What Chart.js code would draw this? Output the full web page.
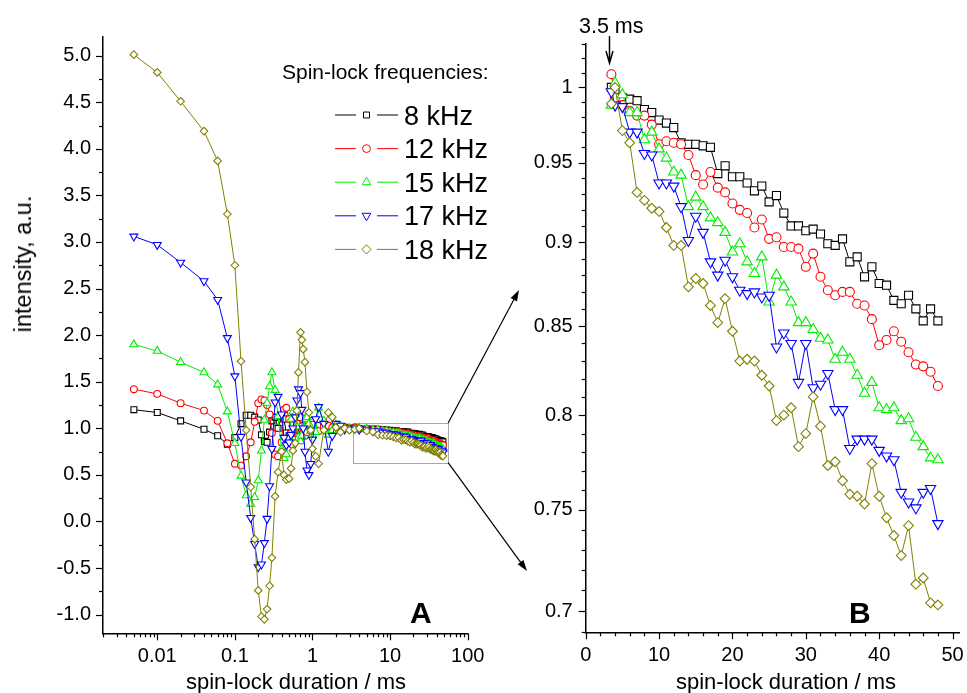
<!DOCTYPE html>
<html>
<head>
<meta charset="utf-8">
<script src="https://cdn.jsdelivr.net/npm/chart.js@4.4.1/dist/chart.umd.min.js"></script>
<style>
  html, body { margin: 0; padding: 0; background: #fff; }
  #page { position: relative; width: 967px; height: 693px; overflow: hidden; font-family: 'Liberation Sans', Arial, sans-serif; }
  canvas { position: absolute; top: 0; }
  #cA { left: 0; }
  #cB { left: 500px; }
  #overlay { left: 0; pointer-events: none; }
  .lbl { position: absolute; font-size: 22px; line-height: 22px; white-space: nowrap; color: #000; }
  #yTitle { left: 23px; top: 264px; font-size: 23.5px; line-height: 24px; transform: translate(-50%, -50%) rotate(-90deg); }
  #xTitleA { left: 296px; top: 671px; transform: translateX(-50%); }
  #xTitleB { left: 786px; top: 671px; transform: translateX(-50%); }
</style>
</head>
<body>
<div id="page">
  <canvas id="cA" width="500" height="693"></canvas>
  <canvas id="cB" width="467" height="693"></canvas>
  <canvas id="overlay" width="967" height="693"></canvas>
  <div class="lbl" id="yTitle">intensity, a.u.</div>
  <div class="lbl" id="xTitleA">spin-lock duration / ms</div>
  <div class="lbl" id="xTitleB">spin-lock duration / ms</div>
</div>
<script>
'use strict';

// spin-lock durations, ms (short part only on panel A, long part on both)
var TIME_SHORT = [0.005, 0.01, 0.02, 0.04, 0.06, 0.08,
  0.1, 0.12, 0.14, 0.16, 0.18, 0.2, 0.22, 0.24, 0.26, 0.28, 0.3,
  0.33, 0.36, 0.4, 0.43, 0.46, 0.5, 0.53, 0.56, 0.6, 0.63, 0.66, 0.7, 0.73, 0.76, 0.8, 0.85, 0.9, 0.95, 1.0,
  1.1, 1.2, 1.4, 1.6, 1.8, 2.0, 2.3, 2.6, 3.0];
var TIME_LONG = [3.5, 4, 5, 6, 7, 8, 9, 10, 11, 12, 13, 14, 15, 16, 17, 18, 19, 20, 21, 22, 23, 24, 25, 26,
  27, 28, 29, 30, 31, 32, 33, 34, 35, 36, 37, 38, 39, 40, 41, 42, 43, 44, 45, 46, 47, 48];

// intensities, a.u.
var K8_SHORT = [1.20, 1.17, 1.08, 0.99, 0.92, 0.83,
  0.90, 1.05, 1.14, 1.14, 1.12, 1.09, 0.93, 0.86, 0.85, 0.96, 1.08,
  1.12, 1.00, 1.13, 1.10, 0.95, 0.92, 0.95, 1.05, 1.10, 1.08, 0.98, 0.95, 0.97, 1.02, 1.05, 1.06, 1.02, 0.98, 0.97,
  0.99, 1.03, 1.04, 1.02, 1.00, 0.99, 1.00, 1.01, 1.00];
var K12_SHORT = [1.42, 1.37, 1.27, 1.19, 1.08, 0.84,
  0.62, 0.60, 0.70, 0.85, 1.07, 1.27, 1.31, 1.30, 1.25, 1.15, 0.95,
  0.72, 0.70, 0.85, 1.20, 1.22, 1.10, 0.95, 0.82, 0.88, 1.05, 1.15, 1.12, 1.02, 0.95, 0.92, 0.96, 1.05, 1.08, 1.04,
  0.98, 0.97, 1.02, 1.03, 1.01, 0.99, 1.00, 1.01, 1.00];
var K15_SHORT = [1.90, 1.83, 1.71, 1.60, 1.47, 1.18,
  0.84, 0.49, 0.28, 0.19, 0.26, 0.44, 0.76, 1.09, 1.27, 1.45, 1.60,
  1.41, 1.13, 0.78, 0.68, 0.72, 0.90, 1.10, 1.18, 1.15, 1.02, 0.90, 0.86, 0.92, 1.02, 1.10, 1.12, 1.05, 0.97, 0.93,
  0.96, 1.22, 1.08, 0.93, 0.98, 1.04, 1.02, 0.99, 1.00];
var K17_SHORT = [3.06, 2.97, 2.78, 2.58, 2.38, 1.97,
  1.56, 0.91, 0.42, 0.04, -0.24, -0.49, -0.46, -0.23, 0.03, 0.38, 0.78,
  1.28, 1.34, 1.15, 0.90, 0.82, 0.85, 0.93, 1.00, 1.12, 1.30, 1.42, 1.38, 1.20, 1.00, 0.75, 0.55, 0.50, 0.62, 0.88,
  1.10, 1.23, 1.05, 0.75, 0.92, 1.05, 1.03, 0.99, 1.00];
var K18_SHORT = [5.01, 4.82, 4.51, 4.19, 3.87, 3.30,
  2.75, 1.72, 0.98, 0.37, -0.19, -0.74, -1.02, -1.05, -0.94, -0.69, -0.39,
  0.27, 0.53, 0.75, 0.50, 0.45, 0.46, 0.57, 0.76, 0.84, 1.19, 1.60, 2.03, 1.95, 1.85, 1.71, 1.39, 1.17, 0.98, 0.78,
  0.70, 0.62, 0.98, 1.17, 1.12, 1.01, 0.96, 1.00, 0.98];

var K8_LONG = [1.000, 0.998, 0.993, 0.992, 0.991, 0.985, 0.983, 0.978, 0.976, 0.973, 0.963, 0.962, 0.962, 0.961,
  0.960, 0.943, 0.948, 0.941, 0.941, 0.937, 0.932, 0.935, 0.925, 0.929, 0.918, 0.910, 0.910, 0.907, 0.908, 0.905,
  0.899, 0.898, 0.902, 0.888, 0.891, 0.879, 0.885, 0.875, 0.874, 0.865, 0.863, 0.868, 0.860, 0.853, 0.860, 0.853];
var K12_LONG = [1.009, 0.993, 0.988, 0.984, 0.981, 0.981, 0.975, 0.962, 0.964, 0.963, 0.962, 0.955, 0.942, 0.936,
  0.944, 0.934, 0.931, 0.924, 0.920, 0.918, 0.909, 0.914, 0.902, 0.903, 0.897, 0.897, 0.896, 0.885, 0.893, 0.879,
  0.871, 0.868, 0.870, 0.870, 0.863, 0.862, 0.854, 0.839, 0.842, 0.847, 0.841, 0.835, 0.828, 0.827, 0.824, 0.816];
var K15_LONG = [0.988, 1.003, 0.995, 0.983, 0.983, 0.965, 0.970, 0.959, 0.953, 0.944, 0.942, 0.922, 0.928, 0.922,
  0.915, 0.912, 0.906, 0.894, 0.899, 0.888, 0.881, 0.891, 0.864, 0.880, 0.873, 0.864, 0.852, 0.852, 0.848, 0.843,
  0.842, 0.831, 0.835, 0.831, 0.822, 0.812, 0.818, 0.804, 0.803, 0.804, 0.797, 0.798, 0.788, 0.783, 0.777, 0.776];
var K17_LONG = [0.997, 0.988, 0.987, 0.970, 0.970, 0.956, 0.955, 0.937, 0.937, 0.935, 0.922, 0.901, 0.916, 0.906,
  0.888, 0.880, 0.889, 0.879, 0.871, 0.869, 0.870, 0.867, 0.868, 0.838, 0.846, 0.840, 0.818, 0.840, 0.815, 0.817,
  0.823, 0.803, 0.803, 0.782, 0.787, 0.787, 0.787, 0.781, 0.778, 0.776, 0.759, 0.754, 0.751, 0.759, 0.761, 0.743];
var K18_LONG = [0.989, 1.000, 0.971, 0.963, 0.931, 0.926, 0.921, 0.919, 0.909, 0.898, 0.898, 0.873, 0.878, 0.875,
  0.862, 0.852, 0.866, 0.847, 0.830, 0.831, 0.830, 0.822, 0.816, 0.797, 0.800, 0.804, 0.783, 0.790, 0.810, 0.794,
  0.773, 0.775, 0.765, 0.758, 0.757, 0.753, 0.774, 0.757, 0.746, 0.737, 0.727, 0.742, 0.713, 0.716, 0.704, 0.703];

var LABELS = ['8 kHz', '12 kHz', '15 kHz', '17 kHz', '18 kHz'];
var SHORT_VALUES = [K8_SHORT, K12_SHORT, K15_SHORT, K17_SHORT, K18_SHORT];
var LONG_VALUES = [K8_LONG, K12_LONG, K15_LONG, K17_LONG, K18_LONG];

// tick labels
var X_TICKS_A = [0.01, 0.1, 1, 10, 100];
var Y_TICKS_A = [-1.0, -0.5, 0.0, 0.5, 1.0, 1.5, 2.0, 2.5, 3.0, 3.5, 4.0, 4.5, 5.0];
var X_TICKS_B = [0, 10, 20, 30, 40, 50];
var Y_TICKS_B = [0.7, 0.75, 0.8, 0.85, 0.9, 0.95, 1];

// zoomed region marked on panel A
var ZOOM_BOX_X = [3.3, 56];
var ZOOM_BOX_Y = [0.632, 1.057];

var STYLES = [
  { color: '#000000', shape: 'rect',     rot: 0,   rA: 4.2, rB: 5.7, rL: 4.2 },
  { color: '#ff0000', shape: 'circle',   rot: 0,   rA: 3.4, rB: 4.5, rL: 3.9 },
  { color: '#00ee00', shape: 'triangle', rot: 0,   rA: 4.6, rB: 6.0, rL: 5.0 },
  { color: '#0000ff', shape: 'triangle', rot: 180, rA: 4.6, rB: 6.0, rL: 5.0 },
  { color: '#808000', shape: 'rectRot',  rot: 0,   rA: 3.8, rB: 4.9, rL: 4.6 }
];

var FONT = "'Liberation Sans', Arial, sans-serif";
Chart.defaults.font.family = FONT;
Chart.defaults.color = '#000';

function points(times, vals) {
  return times.map(function (t, i) { return { x: t, y: vals[i] }; });
}

function logMinor(min, max) {
  var out = [];
  for (var e = -3; e <= 2; e++) {
    for (var m = 2; m <= 9; m++) {
      var v = +(m * Math.pow(10, e)).toPrecision(6);
      if (v >= min - 1e-12 && v <= max) out.push(v);
    }
  }
  return out;
}

function range(a, b, step, skip) {
  var out = [];
  for (var k = a; k <= b; k += step) { if (!skip(k)) out.push(k); }
  return out;
}

function makeDatasets(panel) {
  return STYLES.map(function (s, i) {
    var data = panel === 'A'
      ? points(TIME_SHORT.concat(TIME_LONG), SHORT_VALUES[i].concat(LONG_VALUES[i]))
      : points(TIME_LONG, LONG_VALUES[i]);
    return {
      label: LABELS[i],
      data: data,
      order: 4 - i,
      borderColor: s.color,
      borderWidth: 1,
      tension: 0,
      pointStyle: s.shape,
      pointRotation: s.rot,
      pointRadius: panel === 'A' ? s.rA : s.rB,
      pointBorderWidth: 1.1,
      pointBorderColor: s.color,
      pointBackgroundColor: '#ffffff'
    };
  });
}

function fixedAxis(size, horizontal) {
  return function (scale) {
    if (horizontal) scale.height = size; else scale.width = size;
    scale.paddingLeft = 0; scale.paddingRight = 0;
    scale.paddingTop = 0; scale.paddingBottom = 0;
  };
}

function setTicks(list) {
  return function (scale) {
    scale.ticks = list.map(function (v) { return { value: v }; });
  };
}

function axisOpts(extra) {
  var base = {
    grid: { display: false, drawTicks: false },
    border: { display: true, color: '#000', width: 1.5 },
    ticks: { font: { size: 20, family: FONT }, color: '#000', autoSkip: false, maxRotation: 0, minRotation: 0 }
  };
  Object.keys(extra).forEach(function (k) {
    if (k === 'ticks') Object.assign(base.ticks, extra.ticks);
    else base[k] = extra[k];
  });
  return base;
}

// outward tick marks, major and minor (Origin style)
var tickMarks = {
  id: 'tickMarks',
  afterDraw: function (chart, args, opts) {
    var ctx = chart.ctx;
    ctx.save();
    ctx.strokeStyle = '#000';
    ctx.lineWidth = 1.2;
    ['x', 'y'].forEach(function (id) {
      var sc = chart.scales[id];
      var spec = opts[id];
      if (!spec) return;
      function mark(v, len) {
        var p = Math.round(sc.getPixelForValue(v)) + 0.5;
        ctx.beginPath();
        if (id === 'x') { ctx.moveTo(p, sc.top); ctx.lineTo(p, sc.top + len); }
        else { ctx.moveTo(sc.right, p); ctx.lineTo(sc.right - len, p); }
        ctx.stroke();
      }
      spec.major.forEach(function (v) { mark(v, 7); });
      spec.minor.forEach(function (v) { mark(v, 4); });
    });
    ctx.restore();
  }
};

function drawMarker(ctx, s, x, y, r) {
  ctx.fillStyle = '#fff';
  ctx.strokeStyle = s.color;
  ctx.lineWidth = 1;
  if (Chart.helpers && Chart.helpers.drawPoint) {
    Chart.helpers.drawPoint(ctx, { pointStyle: s.shape, rotation: s.rot, radius: r, borderWidth: 1 }, x, y);
  } else {
    ctx.beginPath(); ctx.rect(x - r * 0.7, y - r * 0.7, r * 1.4, r * 1.4); ctx.fill(); ctx.stroke();
  }
}

var panelA = {
  id: 'panelA',
  beforeDatasetsDraw: function (chart) {
    var xs = chart.scales.x, ys = chart.scales.y, ctx = chart.ctx;
    var x0 = xs.getPixelForValue(ZOOM_BOX_X[0]), x1 = xs.getPixelForValue(ZOOM_BOX_X[1]);
    var y0 = ys.getPixelForValue(ZOOM_BOX_Y[1]), y1 = ys.getPixelForValue(ZOOM_BOX_Y[0]);
    ctx.save();
    ctx.strokeStyle = '#a8a8a8';
    ctx.lineWidth = 1;
    ctx.strokeRect(Math.round(x0) + 0.5, Math.round(y0) + 0.5, Math.round(x1 - x0), Math.round(y1 - y0));
    ctx.restore();
  },
  afterDraw: function (chart) {
    var ctx = chart.ctx;
    ctx.save();
    ctx.fillStyle = '#000';
    ctx.textBaseline = 'alphabetic';
    ctx.font = '21px ' + FONT;
    ctx.fillText('Spin-lock frequencies:', 282, 79);
    STYLES.forEach(function (s, i) {
      var y = 115 + i * 33.6;
      ctx.strokeStyle = s.color;
      ctx.lineWidth = 1;
      ctx.beginPath();
      ctx.moveTo(335, y); ctx.lineTo(356, y);
      ctx.moveTo(377, y); ctx.lineTo(398, y);
      ctx.stroke();
      drawMarker(ctx, s, 366.5, y, s.rL);
      ctx.fillStyle = '#000';
      ctx.font = '27px ' + FONT;
      ctx.fillText(LABELS[i], 404, y + 9.5);
    });
    ctx.font = 'bold 30px ' + FONT;
    ctx.fillText('A', 410, 623);
    ctx.restore();
  }
};

var panelB = {
  id: 'panelB',
  afterDraw: function (chart) {
    var ctx = chart.ctx;
    var ax = Math.round(chart.scales.x.getPixelForValue(3.5)) - 1.5;
    ctx.save();
    ctx.fillStyle = '#000';
    ctx.strokeStyle = '#000';
    ctx.font = '21.5px ' + FONT;
    ctx.fillText('3.5 ms', 79, 33);
    ctx.lineWidth = 1.5;
    ctx.beginPath();
    ctx.moveTo(ax, 36); ctx.lineTo(ax, 62);
    ctx.moveTo(ax - 3.5, 51); ctx.lineTo(ax, 63); ctx.lineTo(ax + 3.5, 51);
    ctx.stroke();
    ctx.font = 'bold 30px ' + FONT;
    ctx.fillText('B', 349, 623);
    ctx.restore();
  }
};

var chartA = new Chart(document.getElementById('cA'), {
  type: 'line',
  data: { datasets: makeDatasets('A') },
  plugins: [panelA, tickMarks],
  options: {
    responsive: false,
    animation: false,
    devicePixelRatio: 1,
    layout: { padding: { top: 37, right: 32.3, bottom: 0, left: 0 } },
    plugins: {
      legend: { display: false },
      tooltip: { enabled: false },
      tickMarks: {
        x: { major: X_TICKS_A, minor: logMinor(0.002, 100) },
        y: { major: Y_TICKS_A, minor: range(-5, 21, 1, function (k) { return k % 2 === 0 || k * 0.25 < -1.2 || k * 0.25 > 5.2; }).map(function (k) { return k * 0.25; }) }
      }
    },
    scales: {
      x: axisOpts({
        type: 'logarithmic', min: 0.002, max: 100,
        afterBuildTicks: setTicks(X_TICKS_A),
        afterFit: fixedAxis(59.7, true),
        ticks: { padding: 11, callback: function (v) { return String(v); } }
      }),
      y: axisOpts({
        type: 'linear', min: -1.2, max: 5.2,
        afterBuildTicks: setTicks(Y_TICKS_A),
        afterFit: fixedAxis(103, false),
        ticks: { padding: 12, callback: function (v) { return Number(v).toFixed(1); } }
      })
    }
  }
});

var chartB = new Chart(document.getElementById('cB'), {
  type: 'line',
  data: { datasets: makeDatasets('B') },
  plugins: [panelB, tickMarks],
  options: {
    responsive: false,
    animation: false,
    devicePixelRatio: 1,
    layout: { padding: { top: 44, right: 3, bottom: 0, left: 0 } },
    plugins: {
      legend: { display: false },
      tooltip: { enabled: false },
      tickMarks: {
        x: { major: X_TICKS_B, minor: range(2, 50, 2, function (k) { return k % 10 === 0; }) },
        y: { major: Y_TICKS_B, minor: range(69, 103, 1, function (k) { return k % 5 === 0 && k <= 100; }).map(function (k) { return k / 100; }) }
      }
    },
    scales: {
      x: axisOpts({
        type: 'linear', min: 0, max: 51,
        afterBuildTicks: setTicks(X_TICKS_B),
        afterFit: fixedAxis(60.7, true),
        ticks: { padding: 11, callback: function (v) { return String(v); } }
      }),
      y: axisOpts({
        type: 'logarithmic', min: 0.69, max: 1.03,
        afterBuildTicks: setTicks(Y_TICKS_B),
        afterFit: fixedAxis(85.7, false),
        ticks: { padding: 13, callback: function (v) { return String(v); } }
      })
    }
  }
});

// arrows from the zoom box on A toward panel B
function arrow(ctx, x0, y0, x1, y1) {
  var a = Math.atan2(y1 - y0, x1 - x0), L = 11, W = 3.6;
  var ca = Math.cos(a), sa = Math.sin(a);
  ctx.beginPath();
  ctx.moveTo(x0, y0);
  ctx.lineTo(x1 - ca * L * 0.7, y1 - sa * L * 0.7);
  ctx.stroke();
  ctx.beginPath();
  ctx.moveTo(x1, y1);
  ctx.lineTo(x1 - ca * L - sa * W, y1 - sa * L + ca * W);
  ctx.lineTo(x1 - ca * L + sa * W, y1 - sa * L - ca * W);
  ctx.closePath();
  ctx.fill();
}

(function drawOverlay() {
  var ctx = document.getElementById('overlay').getContext('2d');
  var xs = chartA.scales.x, ys = chartA.scales.y;
  var bx = xs.getPixelForValue(ZOOM_BOX_X[1]);
  var yTop = ys.getPixelForValue(ZOOM_BOX_Y[1]);
  var yBot = ys.getPixelForValue(ZOOM_BOX_Y[0]);
  ctx.strokeStyle = '#000';
  ctx.fillStyle = '#000';
  ctx.lineWidth = 1.2;
  arrow(ctx, bx, yTop, 519, 290);
  arrow(ctx, bx, yBot, 527, 571);
})();
</script>
</body>
</html>
